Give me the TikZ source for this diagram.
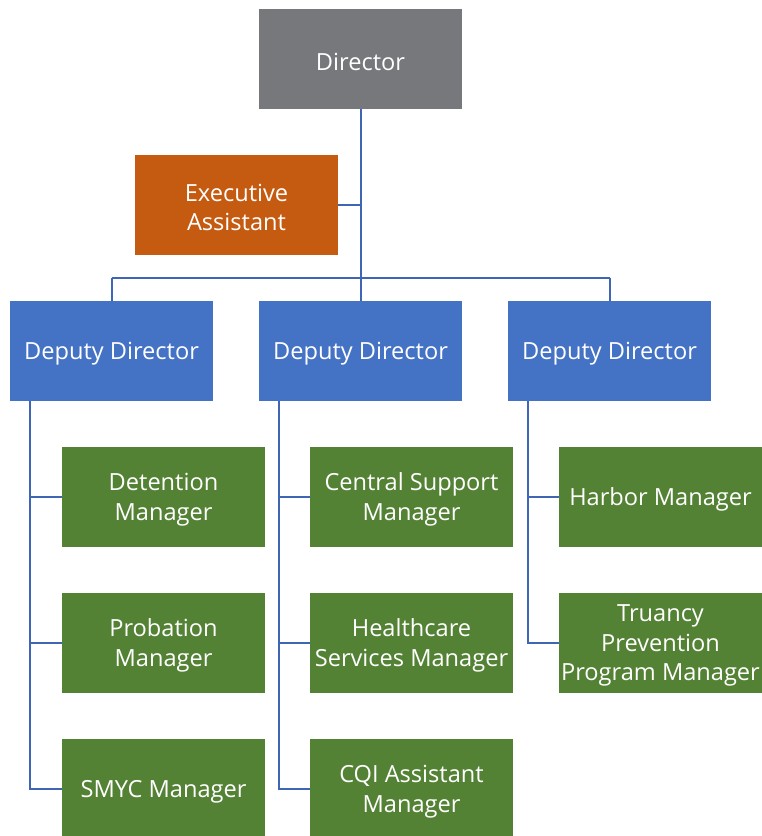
\documentclass[tikz,border=0pt]{standalone}
\usepackage{fontspec}
\setmainfont{Open Sans}
\definecolor{dirgray}{HTML}{77787B}
\definecolor{eaorange}{HTML}{C55A11}
\definecolor{ddblue}{HTML}{4472C4}
\definecolor{mgreen}{HTML}{548235}
\definecolor{linkblue}{HTML}{3F65B5}
\begin{document}
\begin{tikzpicture}[x=1pt,y=-1pt,
  lab/.style={text=white, align=center, inner sep=0pt, yshift=-2.5pt,
    font=\fontsize{23.6}{29.5}\selectfont},
  box/.style={rectangle, minimum width=203pt, minimum height=100pt, inner sep=0pt,
    label={[lab]center:#1}},
  dirbox/.style={box={#1}, fill=dirgray},
  eabox/.style={box={#1}, fill=eaorange},
  ddbox/.style={box={#1}, fill=ddblue},
  mbox/.style={box={#1}, fill=mgreen},
  link/.style={draw=linkblue, line width=2pt}]
\useasboundingbox (0,0) rectangle (762,836);
\node[dirbox={Director}] (dir) at (360.5,59) {};
\node[eabox={Executive\\Assistant}] (ea) at (236.5,205) {};
\node[ddbox={Deputy Director}] (dd1) at (111.5,351) {};
\node[ddbox={Deputy Director}] (dd2) at (360.5,351) {};
\node[ddbox={Deputy Director}] (dd3) at (609.5,351) {};
\node[mbox={Detention\\Manager}] (m11) at (163.5,497) {};
\node[mbox={Probation\\Manager}] (m12) at (163.5,643) {};
\node[mbox={SMYC Manager}] (m13) at (163.5,789) {};
\node[mbox={Central Support\\Manager}] (m21) at (411.5,497) {};
\node[mbox={Healthcare\\Services Manager}] (m22) at (411.5,643) {};
\node[mbox={CQI Assistant\\Manager}] (m23) at (411.5,789) {};
\node[mbox={Harbor Manager}] (m31) at (660.5,497) {};
\node[mbox={Truancy\\Prevention\\Program Manager}] (m32) at (660.5,643) {};
\coordinate (bus) at (360.5,278);
\coordinate (b1) at (111.5,278);
\coordinate (b3) at (609.5,278);
\draw[link] (dir.south) -- (bus);
\draw[link] (ea.east) -- (ea.east -| dir.south);
\draw[link] (b1) -- (b3);
\draw[link] (b1) -- (dd1.north);
\draw[link] (bus) -- (dd2.north);
\draw[link] (b3) -- (dd3.north);
\coordinate (v1) at (30,401);
\coordinate (v2) at (279,401);
\coordinate (v3) at (528,401);
\draw[link] (v1) |- (m13.west);
\draw[link] (m11.west) -- (m11.west -| v1);
\draw[link] (m12.west) -- (m12.west -| v1);
\draw[link] (v2) |- (m23.west);
\draw[link] (m21.west) -- (m21.west -| v2);
\draw[link] (m22.west) -- (m22.west -| v2);
\draw[link] (v3) |- (m32.west);
\draw[link] (m31.west) -- (m31.west -| v3);
\end{tikzpicture}
\end{document}
